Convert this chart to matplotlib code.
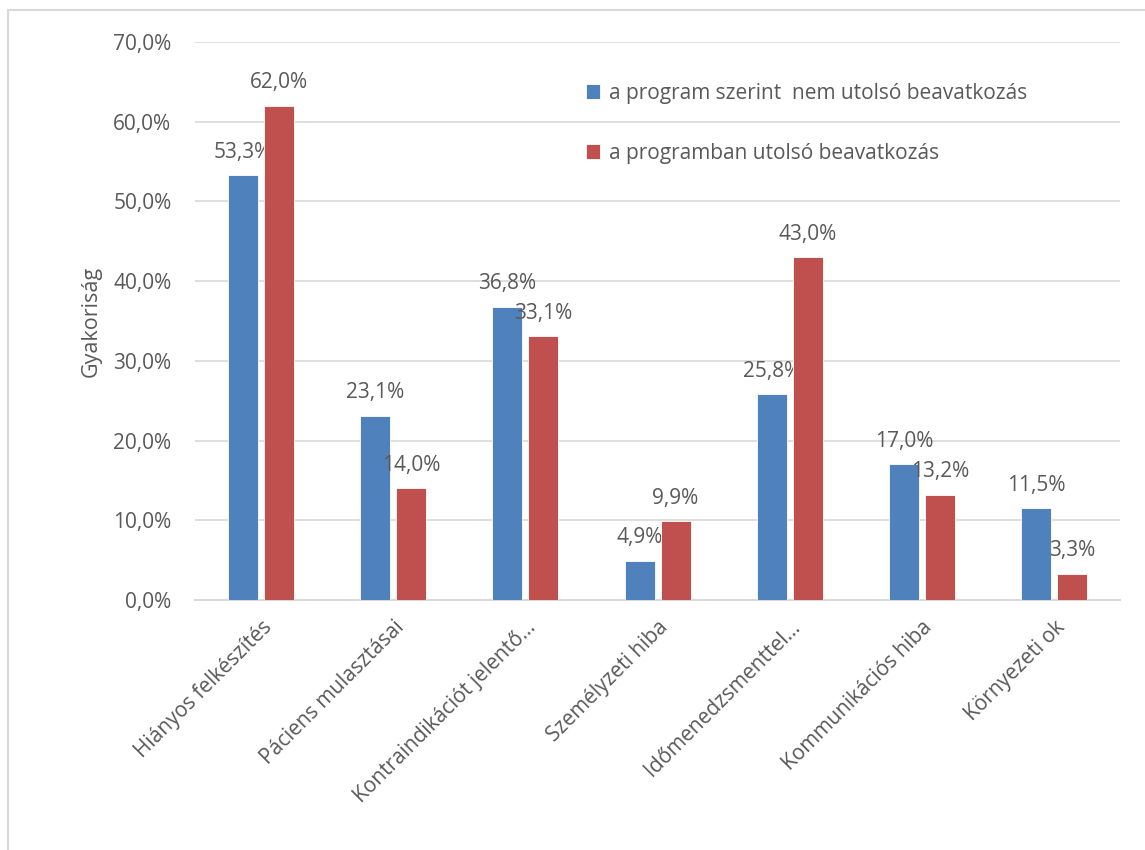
import numpy as np
from matplotlib import pyplot as plt
from matplotlib.patches import Rectangle

# data
categories = [
    "Hiányos felkészítés",
    "Páciens mulasztásai",
    "Kontraindikációt jelentő…",
    "Személyzeti hiba",
    "Időmenedzsmenttel…",
    "Kommunikációs hiba",
    "Környezeti ok",
]
nem_utolso = [53.3, 23.1, 36.8, 4.9, 25.8, 17.0, 11.5]
utolso = [62.0, 14.0, 33.1, 9.9, 43.0, 13.2, 3.3]
series_names = [
    "a program szerint  nem utolsó beavatkozás",
    "a programban utolsó beavatkozás",
]
yticks = [0, 10, 20, 30, 40, 50, 60, 70]

text_color = "#595959"
grid_color = "#D9D9D9"
colors = ["#4F81BD", "#C0504D"]

plt.rcParams["font.family"] = ["Open Sans", "DejaVu Sans"]
plt.rcParams["font.size"] = 15

fig = plt.figure(figsize=(11.45, 8.5), dpi=100)
ax = fig.add_axes([0.1703, 0.2941, 0.808, 0.6565])

# chart border (only left/top visible in the reference)
fig.patches.append(Rectangle((8 / 1145, -0.1), 1.2, 1 - 10 / 850 + 0.1,
                             transform=fig.transFigure, fill=False,
                             edgecolor=grid_color, linewidth=1.5))

x = np.arange(len(categories))
w = 0.227
off = 0.136
for vals, dx, col, name in [(nem_utolso, -off, colors[0], series_names[0]),
                            (utolso, off, colors[1], series_names[1])]:
    bars = ax.bar(x + dx, vals, width=w, color=col, label=name,
                  edgecolor="white", linewidth=0.6, zorder=3)
    for b, v in zip(bars, vals):
        ax.annotate(f"{v:.1f}%".replace(".", ","),
                    (b.get_x() + b.get_width() / 2, v),
                    xytext=(0, 9), textcoords="offset points",
                    ha="center", va="bottom", color=text_color, fontsize=15)

ax.set_xlim(-0.5, len(categories) - 0.5)
ax.set_ylim(0, 70)
ax.set_yticks(yticks)
ax.set_yticklabels([f"{t:.1f}%".replace(".", ",") for t in yticks])
ax.set_xticks(x)
ax.set_xticklabels(categories, rotation=45, ha="right", rotation_mode="anchor")
ax.tick_params(axis="both", length=0, colors=text_color, labelsize=15)
ax.tick_params(axis="y", pad=17)
ax.tick_params(axis="x", pad=12)
for lab in ax.get_xticklabels():
    lab.set_color(text_color)

ax.grid(axis="y", color=grid_color, linewidth=1.2, zorder=0)
ax.set_axisbelow(True)
for s in ["top", "right", "left"]:
    ax.spines[s].set_visible(False)
ax.spines["bottom"].set_color(grid_color)
ax.spines["bottom"].set_linewidth(1.5)

ax.set_ylabel("Gyakoriság", color=text_color, fontsize=15.5, labelpad=8)

leg = ax.legend(loc="upper left", bbox_to_anchor=(0.402, 0.96), frameon=False,
                handlelength=0.7, handleheight=0.7, handletextpad=0.4,
                labelspacing=1.85, fontsize=15)
for t in leg.get_texts():
    t.set_color(text_color)

fig.savefig("out.png", dpi=100)
plt.close(fig)
